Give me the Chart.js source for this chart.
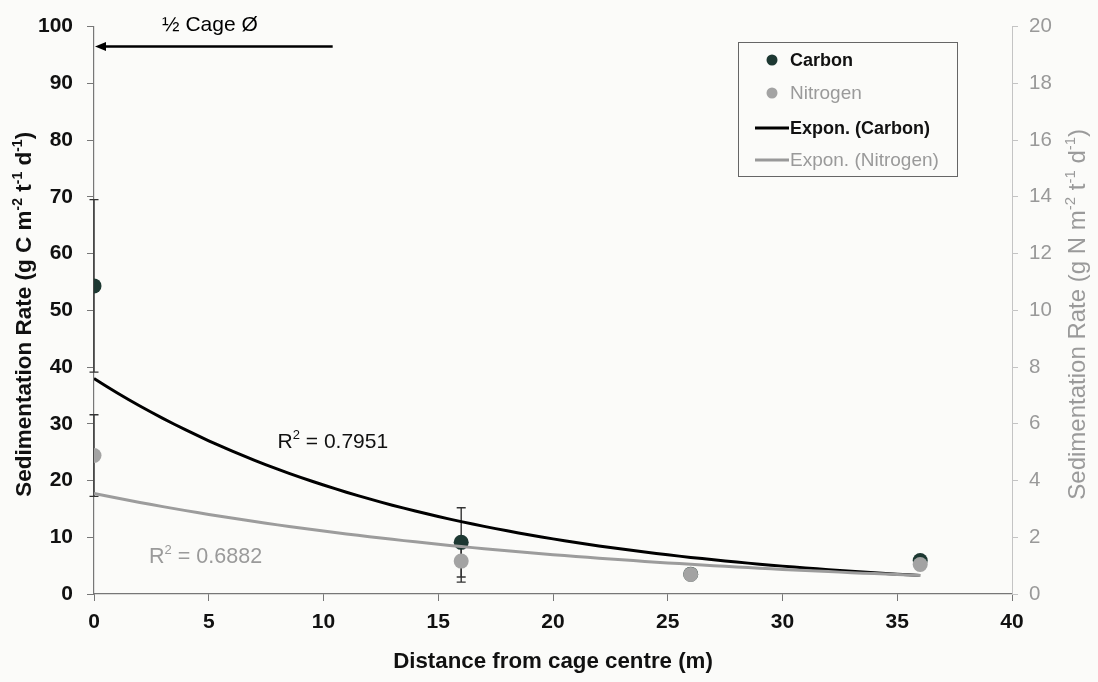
<!DOCTYPE html>
<html>
<head>
<meta charset="utf-8">
<script src="https://cdn.jsdelivr.net/npm/chart.js@4.4.1/dist/chart.umd.min.js"></script>
<style>
    html, body { margin: 0; padding: 0; background: #fbfbf9; }
    #wrap { width: 1098px; height: 682px; }
</style>
</head>
<body>
<div id="wrap"><canvas id="sedChart" width="1098" height="682"></canvas></div>
<script>
// distance of each trap from the cage centre (m)
const distances = [0, 16, 26, 36];
// carbon sedimentation (g C m-2 t-1 d-1) and its error
const carbonRate = [54.3, 9.1, 3.5, 5.9];
const carbonErr = [15.2, 6.1, 0, 0];
// nitrogen sedimentation (g N m-2 t-1 d-1), right hand axis
const nitrogenRate = [4.88, 1.16, 0.69, 1.04];
const nitrogenErr = [1.44, 0.74, 0, 0];

const xTickValues = [0, 5, 10, 15, 20, 25, 30, 35, 40];
const leftTickValues = [0, 10, 20, 30, 40, 50, 60, 70, 80, 90, 100];
const rightTickValues = [0, 2, 4, 6, 8, 10, 12, 14, 16, 18, 20];

const carbonR2 = "0.7951";
const nitrogenR2 = "0.6882";

const FONT = "'Liberation Sans', Arial, sans-serif";
const carbonColor = "#1d3832";
const nitrogenColor = "#a3a3a3";
const nitrogenText = "#9a9a9a";

// least squares fit of y = a * exp(b * x), same as a spreadsheet trendline
function expFit(xs, ys) {
    const n = xs.length;
    const ly = ys.map(Math.log);
    const mx = xs.reduce((s, v) => s + v, 0) / n;
    const my = ly.reduce((s, v) => s + v, 0) / n;
    let sxy = 0, sxx = 0;
    xs.forEach((x, i) => {
        sxy += (x - mx) * (ly[i] - my);
        sxx += (x - mx) * (x - mx);
    });
    const b = sxy / sxx;
    return { a: Math.exp(my - b * mx), b: b };
}

function trendPoints(fit) {
    const pts = [];
    const last = distances[distances.length - 1];
    for (let x = distances[0]; x <= last + 1e-9; x += 0.5) {
        pts.push({ x: x, y: fit.a * Math.exp(fit.b * x) });
    }
    return pts;
}

const carbonFit = expFit(distances, carbonRate);
const nitrogenFit = expFit(distances, nitrogenRate);

function toPoints(ys) {
    return distances.map((x, i) => ({ x: x, y: ys[i] }));
}

// text with superscript pieces, e.g. [["R"], ["2", true], [" = 0.79"]]
function drawRich(ctx, parts, x, y, size, weight, color, align) {
    const supSize = Math.round(size * 0.62);
    let total = 0;
    parts.forEach(p => {
        ctx.font = `${weight} ${p[1] ? supSize : size}px ${FONT}`;
        total += ctx.measureText(p[0]).width;
    });
    let cx = align === "center" ? x - total / 2 : x;
    ctx.fillStyle = color;
    ctx.textBaseline = "alphabetic";
    ctx.textAlign = "left";
    parts.forEach(p => {
        ctx.font = `${weight} ${p[1] ? supSize : size}px ${FONT}`;
        ctx.fillText(p[0], cx, p[1] ? y - size * 0.42 : y);
        cx += ctx.measureText(p[0]).width;
    });
}

const errorBars = {
    id: "errorBars",
    beforeDatasetsDraw(chart) {
        const ctx = chart.ctx;
        const xs = chart.scales.x;
        const groups = [
            { vals: carbonRate, errs: carbonErr, scale: chart.scales.y },
            { vals: nitrogenRate, errs: nitrogenErr, scale: chart.scales.y1 }
        ];
        ctx.save();
        ctx.strokeStyle = "#333";
        ctx.lineWidth = 1.4;
        groups.forEach(g => {
            distances.forEach((d, i) => {
                if (!g.errs[i]) return;
                const px = xs.getPixelForValue(d);
                const top = g.scale.getPixelForValue(g.vals[i] + g.errs[i]);
                const bot = g.scale.getPixelForValue(g.vals[i] - g.errs[i]);
                ctx.beginPath();
                ctx.moveTo(px, top); ctx.lineTo(px, bot);
                ctx.moveTo(px - 4.5, top); ctx.lineTo(px + 4.5, top);
                ctx.moveTo(px - 4.5, bot); ctx.lineTo(px + 4.5, bot);
                ctx.stroke();
            });
        });
        ctx.restore();
    }
};

const decorations = {
    id: "decorations",
    afterDraw(chart) {
        const ctx = chart.ctx;
        const xs = chart.scales.x, ys = chart.scales.y;
        const area = chart.chartArea;
        ctx.save();

        // half cage diameter arrow
        const ay = ys.getPixelForValue(96.5);
        const ax0 = xs.getPixelForValue(10.4), ax1 = xs.getPixelForValue(0) + 1;
        ctx.strokeStyle = "#000";
        ctx.fillStyle = "#000";
        ctx.lineWidth = 2.5;
        ctx.beginPath();
        ctx.moveTo(ax0, ay); ctx.lineTo(ax1 + 8, ay);
        ctx.stroke();
        ctx.beginPath();
        ctx.moveTo(ax1, ay);
        ctx.lineTo(ax1 + 11, ay - 4.5);
        ctx.lineTo(ax1 + 11, ay + 4.5);
        ctx.closePath();
        ctx.fill();
        ctx.font = `21px ${FONT}`;
        ctx.textAlign = "center";
        ctx.textBaseline = "middle";
        ctx.fillText("\u00BD Cage \u00D8", xs.getPixelForValue(5.05), ys.getPixelForValue(100.2));

        // R squared labels
        drawRich(ctx, [["R"], ["2", true], [" = " + carbonR2]],
            xs.getPixelForValue(8.0), ys.getPixelForValue(27.2) + 8, 21, "normal", "#111", "left");
        drawRich(ctx, [["R"], ["2", true], [" = " + nitrogenR2]],
            xs.getPixelForValue(2.4), ys.getPixelForValue(6.8) + 8, 21.5, "normal", nitrogenText, "left");

        // legend box
        ctx.strokeStyle = "#666";
        ctx.lineWidth = 1;
        ctx.strokeRect(738.5, 42.5, 219, 134);
        const items = [
            { label: "Carbon", kind: "dot", color: carbonColor, text: "#111", weight: "bold", size: 18, y: 60 },
            { label: "Nitrogen", kind: "dot", color: nitrogenColor, text: nitrogenText, weight: "normal", size: 19, y: 93 },
            { label: "Expon. (Carbon)", kind: "line", color: "#000", text: "#111", weight: "bold", size: 18, y: 128 },
            { label: "Expon. (Nitrogen)", kind: "line", color: "#999", text: nitrogenText, weight: "normal", size: 19, y: 160 }
        ];
        items.forEach(it => {
            if (it.kind === "dot") {
                ctx.fillStyle = it.color;
                ctx.beginPath();
                ctx.arc(772, it.y, 5.5, 0, Math.PI * 2);
                ctx.fill();
            } else {
                ctx.strokeStyle = it.color;
                ctx.lineWidth = 3;
                ctx.beginPath();
                ctx.moveTo(755, it.y); ctx.lineTo(789, it.y);
                ctx.stroke();
            }
            ctx.fillStyle = it.text;
            ctx.font = `${it.weight} ${it.size}px ${FONT}`;
            ctx.textAlign = "left";
            ctx.textBaseline = "middle";
            ctx.fillText(it.label, 790, it.y + 1);
        });

        // axis titles
        const midY = (area.top + area.bottom) / 2 + 4;
        ctx.save();
        ctx.translate(31, midY);
        ctx.rotate(-Math.PI / 2);
        drawRich(ctx, [["Sedimentation Rate (g C m"], ["-2", true], [" t"], ["-1", true], [" d"], ["-1", true], [")"]],
            0, 0, 22.5, "bold", "#111", "center");
        ctx.restore();

        ctx.save();
        ctx.translate(1085, midY);
        ctx.rotate(-Math.PI / 2);
        drawRich(ctx, [["Sedimentation Rate (g N m"], ["-2", true], [" t"], ["-1", true], [" d"], ["-1", true], [")"]],
            0, 0, 24, "normal", nitrogenText, "center");
        ctx.restore();

        ctx.font = `bold 22.3px ${FONT}`;
        ctx.fillStyle = "#111";
        ctx.textAlign = "center";
        ctx.textBaseline = "middle";
        ctx.fillText("Distance from cage centre (m)", (area.left + area.right) / 2, 662);

        ctx.restore();
    }
};

const ctx = document.getElementById("sedChart").getContext("2d");
new Chart(ctx, {
    type: "scatter",
    data: {
        datasets: [
            {
                label: "Expon. (Nitrogen)",
                type: "line",
                data: trendPoints(nitrogenFit),
                yAxisID: "y1",
                borderColor: "#9c9c9c",
                borderWidth: 3,
                pointRadius: 0,
                tension: 0,
                order: 0
            },
            {
                label: "Expon. (Carbon)",
                type: "line",
                data: trendPoints(carbonFit),
                yAxisID: "y",
                borderColor: "#000",
                borderWidth: 3,
                pointRadius: 0,
                tension: 0,
                order: 1
            },
            {
                label: "Nitrogen",
                data: toPoints(nitrogenRate),
                yAxisID: "y1",
                backgroundColor: nitrogenColor,
                borderColor: nitrogenColor,
                borderWidth: 0,
                pointRadius: 7.5,
                order: 2
            },
            {
                label: "Carbon",
                data: toPoints(carbonRate),
                yAxisID: "y",
                backgroundColor: carbonColor,
                borderColor: carbonColor,
                borderWidth: 0,
                pointRadius: 7.5,
                order: 3
            }
        ]
    },
    options: {
        responsive: false,
        animation: false,
        events: [],
        layout: { padding: { top: 20 } },
        plugins: {
            legend: { display: false },
            tooltip: { enabled: false }
        },
        scales: {
            x: {
                type: "linear",
                min: 0,
                max: 40,
                afterBuildTicks: s => { s.ticks = xTickValues.map(v => ({ value: v })); },
                afterFit: s => { s.height = 88; },
                grid: { drawOnChartArea: false, tickLength: 7, color: "#777" },
                border: { color: "#777", width: 1.2 },
                ticks: {
                    font: { family: FONT, size: 21, weight: "bold" },
                    color: "#111",
                    padding: 9,
                    maxRotation: 0
                }
            },
            y: {
                position: "left",
                min: 0,
                max: 100,
                afterBuildTicks: s => { s.ticks = leftTickValues.map(v => ({ value: v })); },
                afterFit: s => { s.width = 94; },
                grid: { drawOnChartArea: false, tickLength: 7, color: "#777" },
                border: { color: "#777", width: 1.2 },
                ticks: {
                    font: { family: FONT, size: 21, weight: "bold" },
                    color: "#111",
                    padding: 14
                }
            },
            y1: {
                position: "right",
                min: 0,
                max: 20,
                afterBuildTicks: s => { s.ticks = rightTickValues.map(v => ({ value: v })); },
                afterFit: s => { s.width = 86; },
                grid: { drawOnChartArea: false, tickLength: 6, color: "#c4c4c4" },
                border: { color: "#c4c4c4", width: 1 },
                ticks: {
                    font: { family: FONT, size: 20.5 },
                    color: "#999",
                    padding: 11
                }
            }
        }
    },
    plugins: [errorBars, decorations]
});
</script>
</body>
</html>
